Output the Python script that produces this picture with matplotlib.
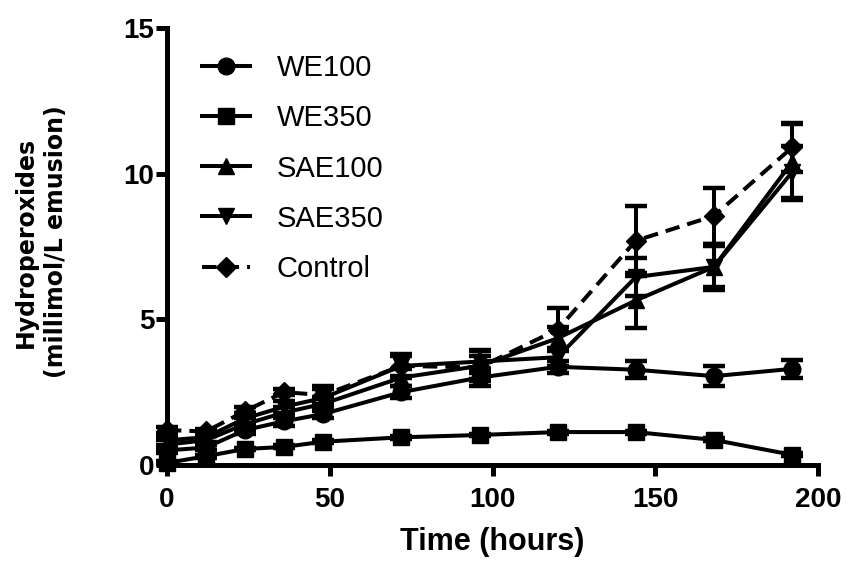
import matplotlib
matplotlib.use("Agg")
import matplotlib.pyplot as plt

plt.rcParams['font.family'] = ['Liberation Sans', 'DejaVu Sans']
plt.rcParams['font.weight'] = 'bold'

# sampling times (hours)
hours = [0, 12, 24, 36, 48, 72, 96, 120, 144, 168, 192]

we100 = [0.5, 0.6, 1.2, 1.5, 1.75, 2.5, 3.0, 3.37, 3.27, 3.05, 3.3]
we100_err = [0.1, 0.1, 0.15, 0.15, 0.15, 0.2, 0.3, 0.2, 0.3, 0.35, 0.3]

we350 = [0.07, 0.3, 0.55, 0.62, 0.8, 0.95, 1.03, 1.13, 1.13, 0.86, 0.35]
we350_err = [0.05, 0.05, 0.05, 0.05, 0.05, 0.05, 0.05, 0.05, 0.05, 0.05, 0.05]

sae100 = [0.7, 0.85, 1.4, 1.8, 2.1, 3.0, 3.4, 4.35, 5.65, 6.8, 10.4]
sae100_err = [0.15, 0.15, 0.2, 0.2, 0.25, 0.3, 0.5, 0.4, 0.95, 0.8, 1.3]

sae350 = [0.85, 0.95, 1.6, 2.0, 2.3, 3.4, 3.55, 3.7, 6.45, 6.8, 10.05]
sae350_err = [0.15, 0.15, 0.2, 0.2, 0.3, 0.4, 0.4, 0.3, 0.65, 0.7, 0.9]

control = [1.2, 1.15, 1.85, 2.5, 2.4, 3.4, 3.35, 4.65, 7.7, 8.55, 10.9]
control_err = [0.1, 0.1, 0.15, 0.1, 0.3, 0.35, 0.4, 0.75, 1.2, 0.95, 0.85]

series = [
    ("WE100", we100, we100_err, "o", "-"),
    ("WE350", we350, we350_err, "s", "-"),
    ("SAE100", sae100, sae100_err, "^", "-"),
    ("SAE350", sae350, sae350_err, "v", "-"),
    ("Control", control, control_err, "D", "--"),
]

fig = plt.figure(figsize=(8.47, 5.65), dpi=100)
ax = fig.add_axes([0.197, 0.177, 0.769, 0.7735])

for name, vals, err, mk, ls in series:
    msize = {"o": 12, "s": 12, "^": 12, "v": 12, "D": 10.5}[mk]
    ln = ax.errorbar(hours, vals, yerr=err, color="black", marker=mk,
                     linestyle=ls, linewidth=2.9, markersize=msize,
                     elinewidth=2.9, capsize=8, capthick=3.2, label=name,
                     clip_on=False)
    if ls == "--":
        ln[0].set_dashes((3.6, 2.0))
    for c in ln[1]:
        c.set_clip_on(False)
    for b in ln[2]:
        b.set_clip_on(False)

ax.set_xlim(0, 200)
ax.set_ylim(0, 15)
ax.set_xticks([0, 50, 100, 150, 200])
ax.set_yticks([0, 5, 10, 15])

for side in ["top", "right"]:
    ax.spines[side].set_visible(False)
for side in ["left", "bottom"]:
    ax.spines[side].set_linewidth(3.6)

ax.tick_params(axis="both", width=3.6, length=8, labelsize=20)
ax.tick_params(axis="y", pad=1)
ax.tick_params(axis="x", pad=8)
for lbl in ax.get_xticklabels() + ax.get_yticklabels():
    lbl.set_fontweight("bold")

ax.set_xlabel("Time (hours)", fontsize=22, fontweight="bold", labelpad=10)
ax.set_ylabel("Hydroperoxides\n(millimol/L emusion)", fontsize=17,
              fontweight="bold", family=["DejaVu Sans"], linespacing=1.3)
ax.yaxis.set_label_coords(-0.152, 0.51)

h, l = ax.get_legend_handles_labels()
h = [x[0] for x in h]
leg = ax.legend(h, l, loc="upper left", bbox_to_anchor=(0.054, 0.94),
                frameon=False, fontsize=21, handlelength=1.65,
                labelspacing=0.76, handletextpad=0.9, borderpad=0,
                borderaxespad=0)
for t in leg.get_texts():
    t.set_fontweight("normal")

fig.savefig("out.png", dpi=100)
